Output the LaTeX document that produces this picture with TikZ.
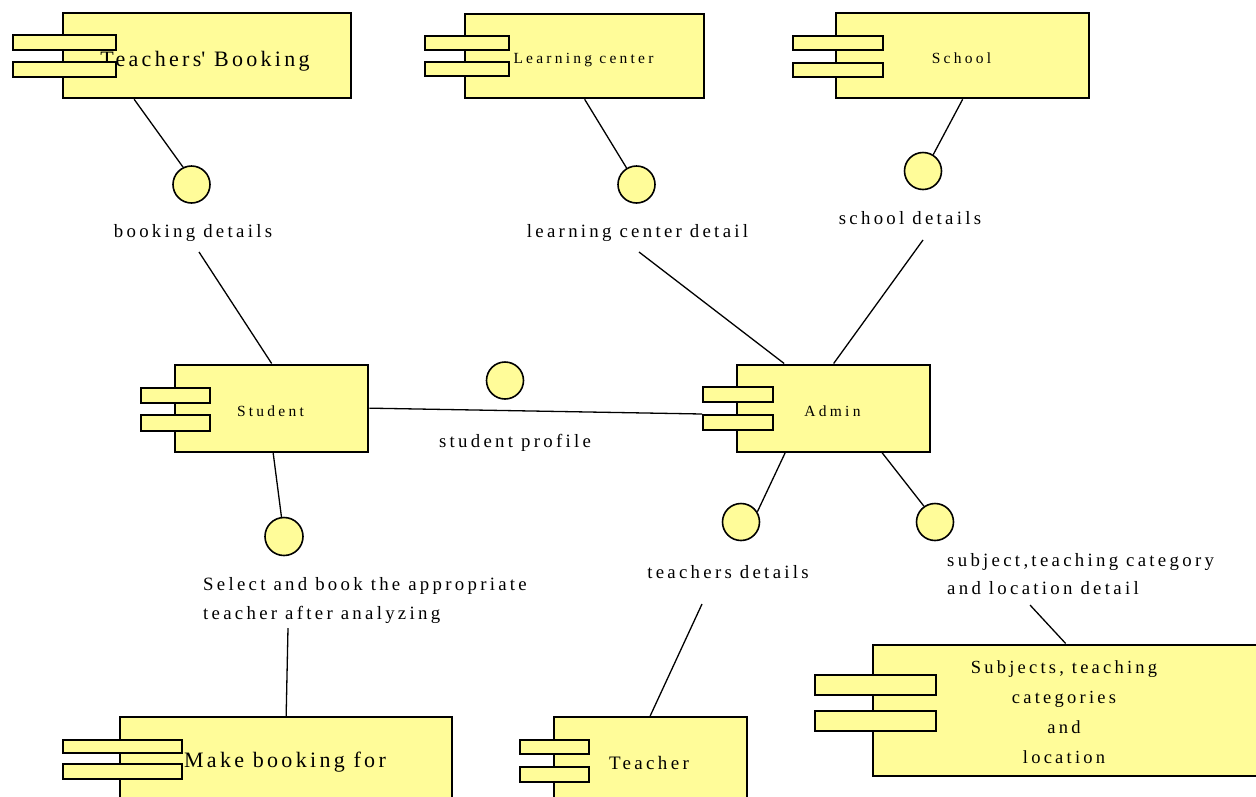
\documentclass[tikz,border=0pt]{standalone}
\usepackage{fontspec}
\setmainfont{Liberation Serif}
% spaced-out serif faces, one per text size
\newfontfamily\fsmall[LetterSpace=21]{Liberation Serif}
\newfontfamily\fmid[LetterSpace=17.5]{Liberation Serif}
\newfontfamily\fbig[LetterSpace=15]{Liberation Serif}
\definecolor{compfill}{RGB}{255,252,153}

\begin{document}
\begin{tikzpicture}[x=1pt,y=-1pt,
  comp/.style 2 args={draw, line width=2.3pt, fill=compfill, inner sep=0pt,
    minimum width=#1, minimum height=#2, anchor=north west},
  tab/.style 2 args={draw, line width=2.3pt, fill=compfill, inner sep=0pt,
    minimum width=#1, minimum height=#2, anchor=north west},
  iface/.style={circle, draw, line width=1.6pt, fill=compfill,
    minimum size=37pt, inner sep=0pt},
  conn/.style={line width=1.3pt},
  nametext/.style={inner sep=0pt, anchor=base, text=black},
  small/.style={font=\fsmall\fontsize{15.5}{18}\selectfont},
  lbl/.style={inner sep=0pt, anchor=base, text=black,
    font=\fmid\fontsize{18.8}{29}\selectfont}]

\useasboundingbox (0,0) rectangle (1256,796);
\clip (0,0) rectangle (1256,796);

% ---- components ----
\node[comp={288pt}{85.5pt}] (tb) at (61.5,11.5) {};
\node[nametext, font=\fbig\fontsize{22}{26}\selectfont] (tbname) at (205,66) {Teachers\textquotesingle{} Booking};
\node[tab={103pt}{15.5pt}] (tbt1) at (12,33.5) {};
\node[tab={103pt}{15pt}] (tbt2) at (12,61) {};

\node[comp={239pt}{84pt}] (lc) at (464,13) {};
\node[nametext, small] (lcname) at (583.5,63) {Learning center};
\node[tab={84.5pt}{14.5pt}] (lct1) at (423.5,34.5) {};
\node[tab={84.5pt}{14pt}] (lct2) at (423.5,61) {};

\node[comp={253pt}{85pt}] (school) at (835,12) {};
\node[nametext, small] (schoolname) at (961.5,63) {School};
\node[tab={90.5pt}{14.5pt}] (scht1) at (791.5,34.5) {};
\node[tab={90.5pt}{14.5pt}] (scht2) at (791.5,61.5) {};

\node[comp={193pt}{87pt}] (student) at (174,363.5) {};
\node[nametext, small] (studentname) at (270.5,416) {Student};
\node[tab={69pt}{15pt}] (stut1) at (140,387) {};
\node[tab={69pt}{15.5pt}] (stut2) at (140,414) {};

\node[comp={193pt}{87pt}] (admin) at (736,363.5) {};
\node[nametext, small] (adminname) at (832.5,416) {Admin};
\node[tab={69.5pt}{15pt}] (admt1) at (702,386) {};
\node[tab={69.5pt}{15pt}] (admt2) at (702,414) {};

\node[comp={385pt}{131pt}] (subj) at (872,643.5) {};
% base of a multi-line node is the baseline of its last line
\node[nametext, align=center, font=\fmid\fontsize{18.5}{29.7}\selectfont] (subjname) at (1064,763)
  {Subjects, teaching\\categories\\and\\location};
\node[tab={121pt}{20.5pt}] (subt1) at (814,673.5) {};
\node[tab={121pt}{20.5pt}] (subt2) at (814,709.5) {};

\node[comp={332pt}{114pt}] (mb) at (119,716) {};
\node[nametext, font=\fbig\fontsize{22}{26}\selectfont] (mbname) at (285,767) {Make booking for};
\node[tab={119pt}{13.5pt}] (mbt1) at (62,738.5) {};
\node[tab={119pt}{15.5pt}] (mbt2) at (62,762.5) {};

\node[comp={193pt}{114pt}] (teacher) at (552.5,716) {};
\node[nametext, font=\fmid\fontsize{19}{22}\selectfont] (teachername) at (649,769) {Teacher};
\node[tab={69.5pt}{14.5pt}] (tcht1) at (518.5,738.5) {};
\node[tab={69.5pt}{15pt}] (tcht2) at (518.5,766) {};

% ---- interfaces ----
\node[iface] (cbook) at (191.5,184.5) {};
\node[iface] (clc) at (636.5,184.5) {};
\node[iface] (cschool) at (923,171) {};
\node[iface] (cprof) at (505,380.5) {};
\node[iface, minimum size=38pt] (csel) at (284,536.5) {};
\node[iface] (cteach) at (741,522) {};
\node[iface] (csubj) at (935,522) {};

% ---- interface labels ----
\node[lbl] (lblbook) at (193,237) {booking details};
\node[lbl] (lbllc) at (637.5,237) {learning center detail};
\node[lbl] (lblschool) at (910,224) {school details};
\node[lbl] (lblprof) at (515,447) {student profile};
\node[lbl, anchor=base west, align=left] (lblsel) at (203,619)
  {Select and book the appropriate\\teacher after analyzing};
\node[lbl] (lblteach) at (728,578) {teachers details};
\node[lbl, anchor=base west, align=left, font=\fmid\fontsize{18.8}{27.5}\selectfont] (lblsubj) at (947,594)
  {subject,teaching category\\and location detail};

% free ends of the connectors below the labels
\coordinate (bookend) at (199,252);
\coordinate (lcend) at (639,252);
\coordinate (schoolend) at (923,240);
\coordinate (selend) at (288,628);
\coordinate (teachend) at (702,604);
\coordinate (subjend) at (1030,605);

% ---- connectors ----
\draw[conn] ([xshift=-72.5pt]tb.south) -- (cbook.116);
\draw[conn] (bookend) -- (student.north);
\draw[conn] (lc.south) -- (clc.121);
\draw[conn] (lcend) -- ([xshift=-49.5pt]admin.north);
\draw[conn] (school.south) -- (cschool.58);
\draw[conn] (schoolend) -- (admin.north);
\draw[conn] (student.east) -- (admt2.north west);
\draw[conn] ([xshift=1.5pt]student.south) -- (csel);
\draw[conn] (selend) -- (mb.north);
\draw[conn] ([xshift=-48.5pt]admin.south) -- (cteach.32);
\draw[conn] (teachend) -- (teacher.north);
\draw[conn] ([xshift=48.5pt]admin.south) -- (csubj.125);
\draw[conn] (subjend) -- (subj.north);
\end{tikzpicture}
\end{document}
